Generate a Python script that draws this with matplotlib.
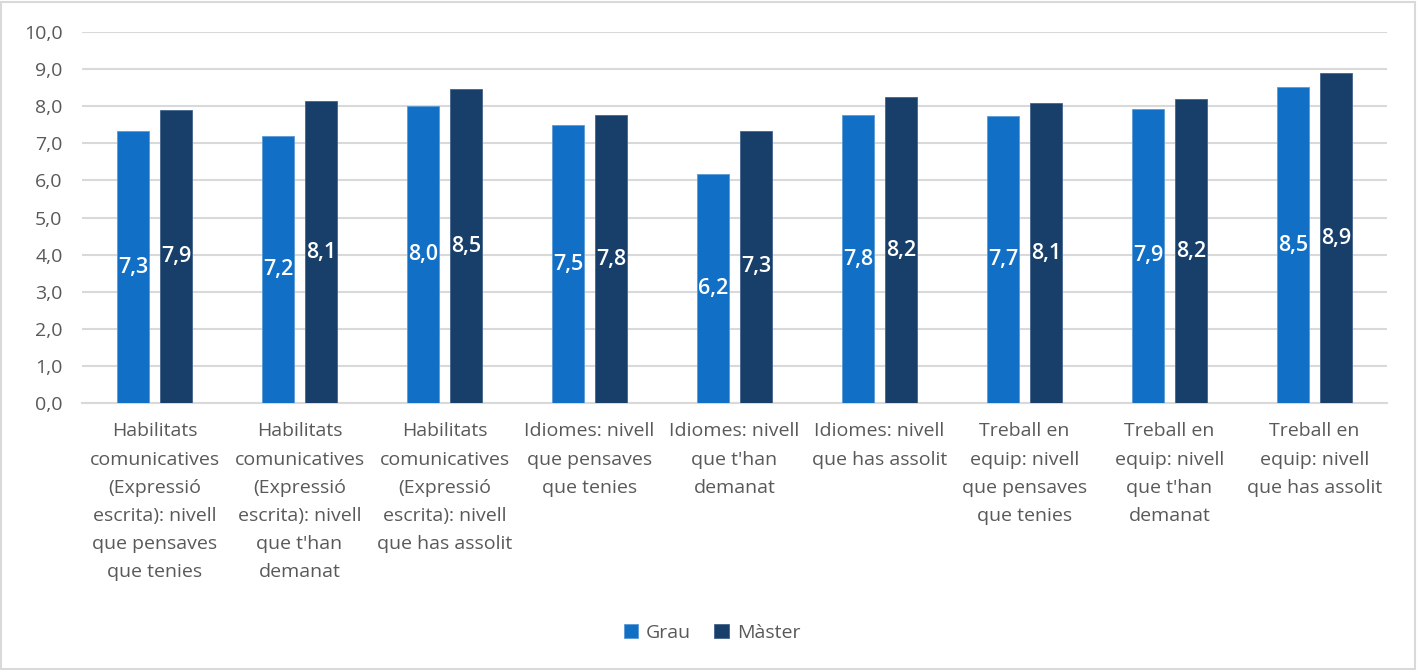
import numpy as np
import matplotlib.pyplot as plt
from matplotlib.patches import Rectangle

plt.rcParams['font.family'] = ['Open Sans', 'DejaVu Sans']

# Data
categories = [
    "Habilitats\ncomunicatives\n(Expressió\nescrita): nivell\nque pensaves\nque tenies",
    "Habilitats\ncomunicatives\n(Expressió\nescrita): nivell\nque t'han\ndemanat",
    "Habilitats\ncomunicatives\n(Expressió\nescrita): nivell\nque has assolit",
    "Idiomes: nivell\nque pensaves\nque tenies",
    "Idiomes: nivell\nque t'han\ndemanat",
    "Idiomes: nivell\nque has assolit",
    "Treball en\nequip: nivell\nque pensaves\nque tenies",
    "Treball en\nequip: nivell\nque t'han\ndemanat",
    "Treball en\nequip: nivell\nque has assolit",
]
grau = [7.33, 7.20, 8.00, 7.49, 6.17, 7.76, 7.74, 7.94, 8.52]
master = [7.90, 8.14, 8.46, 7.76, 7.34, 8.24, 8.08, 8.19, 8.89]
series_names = ["Grau", "Màster"]
yticks = np.arange(0, 10.5, 1.0)

c_grau = '#1170C6'
c_master = '#183F6A'
grid_c = '#D9D9D9'
text_c = '#595959'

fig = plt.figure(figsize=(14.24, 6.70), dpi=100)
ax = fig.add_axes([0.0576, 0.3985, 0.9164, 0.5535])

x = np.arange(len(categories))
w = 0.22
off = 0.148
b1 = ax.bar(x - off, grau, w, color=c_grau, edgecolor='#5B9BD5', linewidth=0.6,
            label=series_names[0], zorder=3)
b2 = ax.bar(x + off, master, w, color=c_master, edgecolor='#44648C', linewidth=0.6,
            label=series_names[1], zorder=3)

for bars, vals in ((b1, grau), (b2, master)):
    for r, v in zip(bars, vals):
        ax.text(r.get_x() + r.get_width() / 2, v / 2, f"{v:.1f}".replace('.', ','),
                ha='center', va='center', color='white', fontsize=15.5,
                fontweight='semibold', zorder=4)

ax.set_xlim(-0.5, len(categories) - 0.5)
ax.set_ylim(0, 10)
ax.set_yticks(yticks)
ax.set_yticklabels([f"{t:.1f}".replace('.', ',') for t in yticks])
ax.set_xticks(x)
ax.set_xticklabels(categories, linespacing=1.72)
ax.tick_params(axis='both', length=0, colors=text_c, labelsize=14)
ax.tick_params(axis='x', pad=14)
ax.tick_params(axis='y', pad=14)
ax.grid(axis='y', color=grid_c, linewidth=1.5, zorder=0)
for s in ('top', 'right', 'left'):
    ax.spines[s].set_visible(False)
ax.spines['bottom'].set_color(grid_c)
ax.spines['bottom'].set_linewidth(1.5)

leg = fig.legend(loc='center', bbox_to_anchor=(0.5, 0.055), ncol=2, frameon=False,
                 fontsize=14, handlelength=0.75, handleheight=0.75, columnspacing=1.2,
                 handletextpad=0.4)
for t in leg.get_texts():
    t.set_color(text_c)

fig.patches.append(Rectangle((0.001, 0.001), 0.993, 0.996, transform=fig.transFigure,
                             fill=False, edgecolor=grid_c, linewidth=1.5))

fig.savefig('out.png', dpi=100)
